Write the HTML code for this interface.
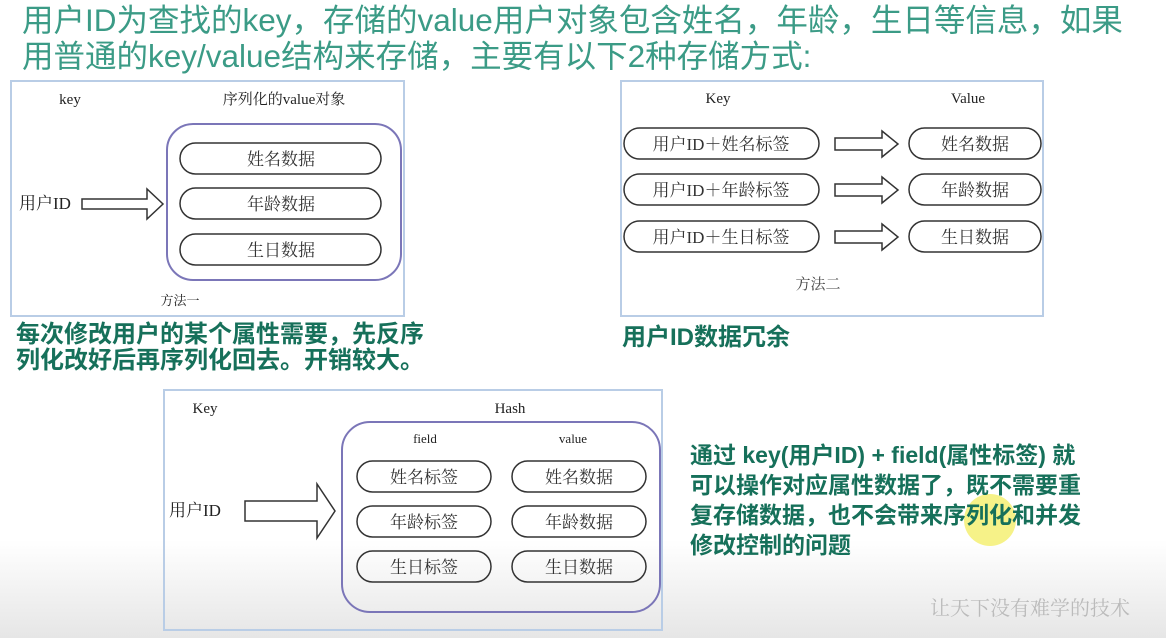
<!DOCTYPE html><html><head><meta charset="utf-8"><style>
body{margin:0;width:1166px;height:638px;overflow:hidden;background:linear-gradient(#fff 0,#fff 540px,#e6e6e6 638px);font-family:"Liberation Sans","Noto Sans CJK SC",sans-serif}
.t{position:absolute;color:#3b9b86;font-size:31.5px;line-height:36px;left:22px;white-space:nowrap}
.g{position:absolute;color:#16705a;font-weight:bold;font-size:23px;line-height:26px;white-space:nowrap}
svg{position:absolute;left:0;top:0}
</style></head><body>
<div class="t" style="top:2px">用户ID为查找的key，存储的value用户对象包含姓名，年龄，生日等信息，如果</div>
<div class="t" style="top:38px">用普通的key/value结构来存储，主要有以下2种存储方式:</div>
<svg width="1166" height="638" font-family="Liberation Serif,Noto Serif CJK SC,serif" fill="none">
<g stroke="#b9cde6" stroke-width="2"><rect x="11" y="81" width="393" height="235"/><rect x="621" y="81" width="422" height="235"/><rect x="164" y="390" width="498" height="240"/></g>
<circle cx="990" cy="520" r="26" fill="#f4ef6a" opacity=".8"/>
<g fill="#222" font-size="15" text-anchor="middle">
<text x="70" y="104">key</text><text x="284" y="104">序列化的value对象</text>
<text x="45" y="209" font-size="17">用户ID</text><text x="180" y="305" font-size="13">方法一</text>
<text x="718" y="103">Key</text><text x="968" y="103">Value</text><text x="818" y="289" fill="#444">方法二</text>
<text x="205" y="413">Key</text><text x="510" y="413">Hash</text>
<text x="425" y="443" font-size="13">field</text><text x="573" y="443" font-size="13">value</text>
<text x="195" y="516" font-size="17">用户ID</text>
</g>
<g stroke="#333" stroke-width="1.5">
<rect x="167" y="124" width="234" height="156" rx="26" stroke="#7b76b8" stroke-width="2"/>
<rect x="180" y="143" width="201" height="31" rx="15.5"/><rect x="180" y="188" width="201" height="31" rx="15.5"/><rect x="180" y="234" width="201" height="31" rx="15.5"/>
<path d="M82 199h65v-10l16 15-16 15v-10h-65z"/>
<rect x="624" y="128" width="195" height="31" rx="15.5"/><rect x="624" y="174" width="195" height="31" rx="15.5"/><rect x="624" y="221" width="195" height="31" rx="15.5"/>
<rect x="909" y="128" width="132" height="31" rx="15.5"/><rect x="909" y="174" width="132" height="31" rx="15.5"/><rect x="909" y="221" width="132" height="31" rx="15.5"/>
<path d="M835 138h47v-7l16 13-16 13v-7h-47z"/><path d="M835 184h47v-7l16 13-16 13v-7h-47z"/><path d="M835 231h47v-7l16 13-16 13v-7h-47z"/>
<rect x="342" y="422" width="318" height="190" rx="28" stroke="#7b76b8" stroke-width="2"/>
<rect x="357" y="461" width="134" height="31" rx="15.5"/><rect x="357" y="506" width="134" height="31" rx="15.5"/><rect x="357" y="551" width="134" height="31" rx="15.5"/>
<rect x="512" y="461" width="134" height="31" rx="15.5"/><rect x="512" y="506" width="134" height="31" rx="15.5"/><rect x="512" y="551" width="134" height="31" rx="15.5"/>
<path d="M245 501h72v-17l18 27-18 27v-17h-72z"/>
</g>
<g fill="#333" font-size="17" text-anchor="middle">
<text x="281" y="165">姓名数据</text><text x="281" y="210">年龄数据</text><text x="281" y="256">生日数据</text>
<text x="721" y="150">用户ID＋姓名标签</text><text x="721" y="196">用户ID＋年龄标签</text><text x="721" y="243">用户ID＋生日标签</text>
<text x="975" y="150">姓名数据</text><text x="975" y="196">年龄数据</text><text x="975" y="243">生日数据</text>
<text x="424" y="483">姓名标签</text><text x="424" y="528">年龄标签</text><text x="424" y="573">生日标签</text>
<text x="579" y="483">姓名数据</text><text x="579" y="528">年龄数据</text><text x="579" y="573">生日数据</text>
</g>
<text x="1030" y="615" fill="#bbb" font-size="20" text-anchor="middle">让天下没有难学的技术</text>
</svg>
<div class="g" style="left:16px;top:322px;font-size:24px">每次修改用户的某个属性需要，先反序<br>列化改好后再序列化回去。开销较大。</div>
<div class="g" style="left:622px;top:325px;font-size:24px">用户ID数据冗余</div>
<div class="g" style="left:690px;top:440px;line-height:30px">通过 key(用户ID) + field(属性标签) 就<br>可以操作对应属性数据了，既不需要重<br>复存储数据，也不会带来序列化和并发<br>修改控制的问题</div>
</body></html>
